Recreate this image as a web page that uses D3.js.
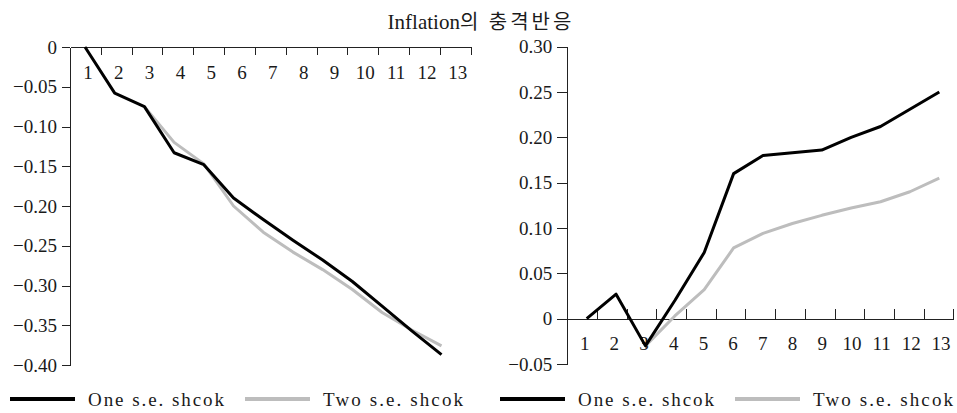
<!DOCTYPE html>
<html>
<head>
<meta charset="utf-8">
<script src="https://cdn.jsdelivr.net/npm/d3@7/dist/d3.min.js"></script>
<style>
  body { margin: 0; background: #fff; }
  .axis path, .axis line { stroke: #222; stroke-width: 1; shape-rendering: crispEdges; }
</style>
</head>
<body>
<script>
// data
var titleLatin = "Inflation";
var titleKorean = "의 충격반응";
var periods = [1, 2, 3, 4, 5, 6, 7, 8, 9, 10, 11, 12, 13];
var seriesNames = ["One s.e. shcok", "Two s.e. shcok"];

// left panel
var leftOne = [0, -0.058, -0.075, -0.133, -0.148, -0.19, -0.217, -0.243, -0.268, -0.295, -0.326, -0.357, -0.387];
var leftTwo = [null, null, -0.075, -0.12, -0.147, -0.2, -0.233, -0.258, -0.28, -0.305, -0.334, -0.356, -0.376];
var leftTicks = [0, -0.05, -0.10, -0.15, -0.20, -0.25, -0.30, -0.35, -0.40];

// right panel
var rightOne = [0, 0.027, -0.03, 0.02, 0.073, 0.16, 0.18, 0.183, 0.186, 0.2, 0.212, 0.231, 0.25];
var rightTwo = [null, null, -0.03, 0.003, 0.032, 0.078, 0.094, 0.105, 0.114, 0.122, 0.129, 0.14, 0.155];
var rightTicks = [0.30, 0.25, 0.20, 0.15, 0.10, 0.05, 0, -0.05];

var colors = ["#000000", "#bdbdbd"];
var serif = "'Liberation Serif', 'Times New Roman', 'DejaVu Serif'";
var korean = "'Noto Sans CJK KR'";

var svg = d3.select("body").append("svg")
  .attr("width", 957)
  .attr("height", 413);

var t = svg.append("text")
  .attr("x", 481)
  .attr("y", 29)
  .attr("text-anchor", "middle")
  .style("font-family", serif)
  .style("font-size", "21px")
  .style("fill", "#1a1a1a");
t.append("tspan").text(titleLatin);
t.append("tspan")
  .style("font-family", korean)
  .style("font-size", "20px")
  .style("letter-spacing", "3px")
  .text(titleKorean);

function fmt(v) {
  if (v === 0) return "0";
  return (v < 0 ? "\u2212" : "") + Math.abs(v).toFixed(2);
}

function panel(opt) {
  var g = svg.append("g");
  var y = d3.scaleLinear().domain(opt.yDomain).range(opt.yRange);
  var xTick = d3.scaleLinear().domain([0, periods.length]).range(opt.xRange);
  var bw = xTick(1) - xTick(0);
  var xLine = d3.scaleLinear().domain([1, 13]).range(opt.lineRange);
  var axisY = y(0);

  // y axis
  g.append("g")
    .attr("class", "axis")
    .attr("transform", "translate(" + opt.xRange[0] + ",0)")
    .call(d3.axisLeft(y).tickValues(opt.ticks).tickFormat(fmt)
      .tickSizeInner(opt.ySize).tickSizeOuter(0).tickPadding(5));

  // category axis, ticks between categories
  var xa = g.append("g")
    .attr("class", "axis")
    .attr("transform", "translate(0," + axisY + ")")
    .call(d3.axisBottom(xTick).tickValues(periods).tickFormat(function (d) { return d; })
      .tickSizeInner(opt.xSize).tickSizeOuter(0).tickPadding(opt.xPad));
  xa.selectAll(".tick text").attr("dx", -bw / 2 + 2);

  g.selectAll(".axis text")
    .style("font-family", serif)
    .style("font-size", "19px")
    .style("fill", "#1a1a1a");

  // lines
  var line = d3.line()
    .defined(function (d) { return d != null; })
    .x(function (d, i) { return xLine(periods[i]); })
    .y(function (d) { return y(d); });

  [opt.two, opt.one].forEach(function (s, k) {
    g.append("path")
      .datum(s)
      .attr("fill", "none")
      .attr("stroke", colors[1 - k])
      .attr("stroke-width", 3)
      .attr("stroke-linejoin", "round")
      .attr("d", line);
  });

  // legend
  var lg = g.append("g").attr("transform", "translate(" + opt.legendX + ",0)");
  seriesNames.forEach(function (name, i) {
    var x0 = i * 235;
    lg.append("line")
      .attr("x1", x0).attr("x2", x0 + 65)
      .attr("y1", 399).attr("y2", 399)
      .attr("stroke", colors[i])
      .attr("stroke-width", 4);
    lg.append("text")
      .attr("x", x0 + 78)
      .attr("y", 406)
      .attr("textLength", i === 0 ? 136 : 140)
      .attr("lengthAdjust", "spacing")
      .style("font-family", serif)
      .style("font-size", "19px")
      .style("fill", "#1a1a1a")
      .text(name);
  });
}

panel({
  yDomain: [0, -0.40], yRange: [47, 365],
  xRange: [70, 470.7], lineRange: [85, 441.5],
  ticks: leftTicks, one: leftOne, two: leftTwo,
  ySize: 8, xSize: 8, xPad: 11, legendX: 10
});

panel({
  yDomain: [0.30, -0.05], yRange: [46.7, 364],
  xRange: [567.3, 953.3], lineRange: [586.7, 939.3],
  ticks: rightTicks, one: rightOne, two: rightTwo,
  ySize: 10, xSize: -10, xPad: 18, legendX: 500
});
</script>
</body>
</html>
